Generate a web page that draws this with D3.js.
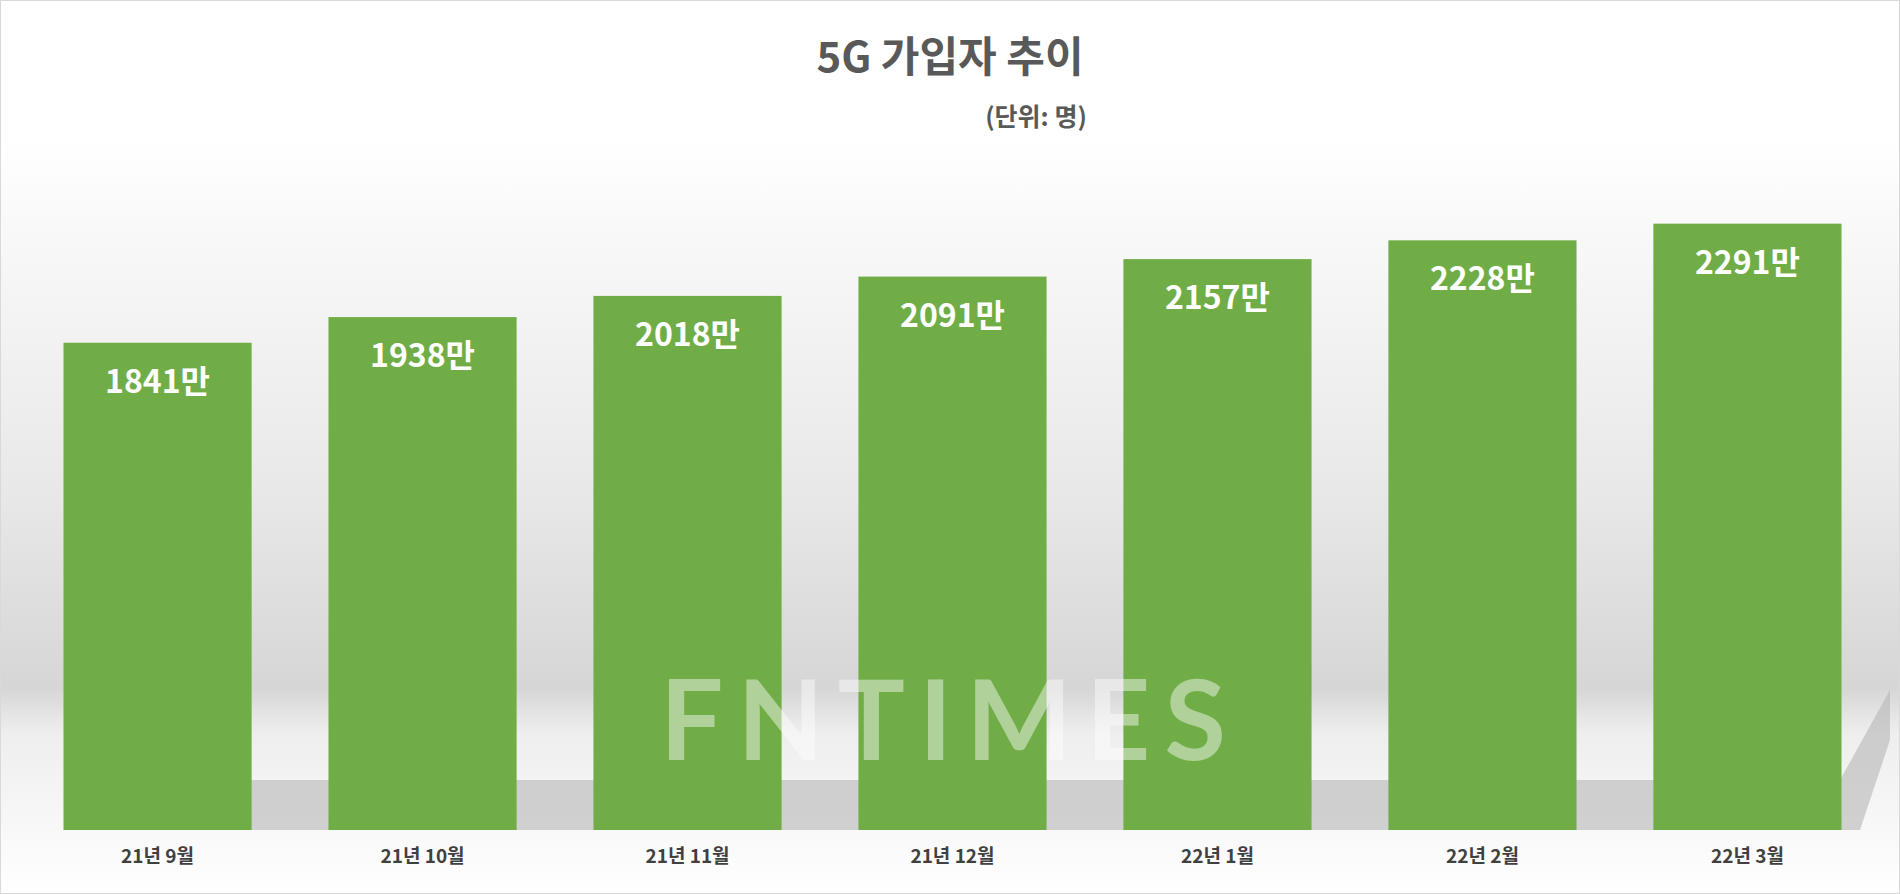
<!DOCTYPE html>
<html>
<head>
<meta charset="utf-8">
<script src="https://cdn.jsdelivr.net/npm/d3@7"></script>
<style>
  body { margin: 0; background: #fff; }
  svg { display: block; font-family: "Noto Sans CJK KR", "Noto Sans", sans-serif; }
</style>
</head>
<body>
<svg id="chart" width="1900" height="894"></svg>
<script>
  var months = ['21년 9월', '21년 10월', '21년 11월', '21년 12월', '22년 1월', '22년 2월', '22년 3월'];
  var subscribers = [1841, 1938, 2018, 2091, 2157, 2228, 2291];
  var valueLabels = ['1841만', '1938만', '2018만', '2091만', '2157만', '2228만', '2291만'];

  var svg = d3.select('#chart');
  var W = 1900, H = 894;

  // background gradient
  var defs = svg.append('defs');
  var bg = defs.append('linearGradient').attr('id', 'bg').attr('x1', 0).attr('y1', 0).attr('x2', 0).attr('y2', 1);
  bg.append('stop').attr('offset', '0%').attr('stop-color', '#ffffff');
  bg.append('stop').attr('offset', '15%').attr('stop-color', '#ffffff');
  bg.append('stop').attr('offset', '55%').attr('stop-color', '#e8e8e8');
  bg.append('stop').attr('offset', '77%').attr('stop-color', '#d6d6d6');
  bg.append('stop').attr('offset', '82%').attr('stop-color', '#eeeeee');
  bg.append('stop').attr('offset', '100%').attr('stop-color', '#ffffff');

  svg.append('rect').attr('x', 0.5).attr('y', 0.5).attr('width', W - 1).attr('height', H - 1)
    .attr('fill', 'url(#bg)').attr('stroke', '#d9d9d9');

  // shadow band behind the bars
  svg.append('path')
    .attr('d', 'M150,780 L1840,780 L1890,690 L1890,740 L1860,830 L150,830 Z')
    .attr('fill', '#b5b5b5').attr('opacity', 0.6);

  var x = d3.scaleBand().domain(months).range([37, 1868]).paddingInner(0.29).paddingOuter(0.1);
  var y = d3.scaleLinear().domain([0, 3136]).range([830, 0]);

  svg.append('text').attr('x', 950).attr('y', 72).attr('text-anchor', 'middle')
    .attr('font-size', 42).attr('font-weight', 'bold').attr('fill', '#595959').text('5G 가입자 추이');
  svg.append('text').attr('x', 1036).attr('y', 126).attr('text-anchor', 'middle')
    .attr('font-size', 25).attr('font-weight', 'bold').attr('fill', '#595959').text('(단위: 명)');

  svg.selectAll('rect.bar').data(subscribers).enter().append('rect')
    .attr('class', 'bar')
    .attr('x', function(d, i) { return x(months[i]); })
    .attr('y', function(d) { return y(d); })
    .attr('width', x.bandwidth())
    .attr('height', function(d) { return y(0) - y(d); })
    .attr('fill', '#70ad47');

  svg.selectAll('text.val').data(subscribers).enter().append('text')
    .attr('class', 'val')
    .attr('x', function(d, i) { return x(months[i]) + x.bandwidth() / 2; })
    .attr('y', function(d) { return y(d) + 50; })
    .attr('text-anchor', 'middle').attr('font-size', 32).attr('font-weight', 'bold').attr('fill', '#fff')
    .text(function(d, i) { return valueLabels[i]; });

  // watermark
  svg.append('text').attr('x', 950).attr('y', 760).attr('text-anchor', 'middle')
    .attr('font-family', 'Lato, sans-serif').attr('font-size', 112).attr('font-weight', 'bold')
    .attr('letter-spacing', 14).attr('fill', '#ffffff').attr('opacity', 0.45).text('FNTIMES');

  var xAxis = svg.append('g').attr('transform', 'translate(0,830)')
    .call(d3.axisBottom(x).tickSize(0).tickPadding(20));
  xAxis.select('.domain').remove();
  xAxis.selectAll('text').attr('font-size', 19).attr('font-weight', 'bold').attr('fill', '#404040')
    .attr('font-family', '"Noto Sans CJK KR", sans-serif');
</script>
</body>
</html>
